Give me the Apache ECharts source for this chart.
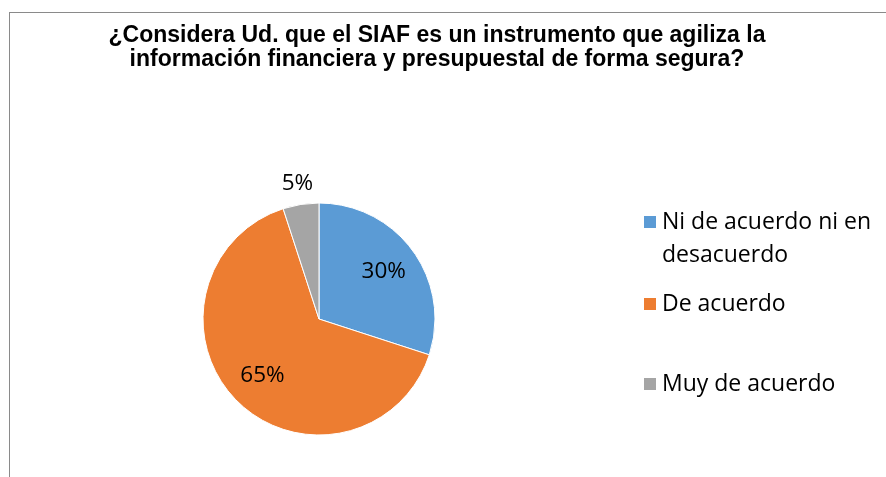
<!DOCTYPE html>
<html>
<head>
    <meta charset="utf-8">
    <title>chart</title>
    <style>
        html, body { margin: 0; padding: 0; background: #fff; }
        #main { width: 886px; height: 477px; position: relative; }
        .frame {
            position: absolute;
            left: 9px;
            top: 12px;
            right: 0;
            bottom: 0;
            border-top: 1px solid #8a8a8a;
            border-left: 1px solid #8a8a8a;
            pointer-events: none;
        }
    </style>
    <script src="https://cdn.jsdelivr.net/npm/echarts@6/dist/echarts.min.js"></script>
</head>
<body>
<div id="main"></div>
<div class="frame"></div>
<script>
    var titleLines = [
        '¿Considera Ud. que el SIAF es un instrumento que agiliza la',
        'información financiera y presupuestal de forma segura?'
    ];
    var categories = ['Ni de acuerdo ni en desacuerdo', 'De acuerdo', 'Muy de acuerdo'];
    var values = [30, 65, 5];
    var colors = ['#5b9bd5', '#ed7d31', '#a5a5a5'];

    var font = '"Open Sans", sans-serif';

    var pieData = categories.map(function (name, i) {
        return {name: name, value: values[i], itemStyle: {color: colors[i]}};
    });

    // label-only copies of the pie, so the labels sit where the original ones are
    var innerLabels = categories.map(function (name, i) {
        return {name: name, value: values[i], label: {show: i < 2}};
    });
    var outerLabels = categories.map(function (name, i) {
        return {name: name, value: values[i], label: {show: i === 2}};
    });

    var labelStyle = {
        position: 'inside',
        formatter: '{c}%',
        color: '#000',
        fontSize: 22.5,
        fontFamily: font
    };

    function legendFor(name, top) {
        return {
            data: [name],
            orient: 'vertical',
            left: 642,
            top: top,
            padding: 0,
            icon: 'rect',
            itemWidth: 14,
            itemHeight: 14,
            selectedMode: false,
            formatter: function (n) {
                // first entry wraps onto two lines, marker stays on the first one
                if (n === categories[0]) return ' \nNi de acuerdo ni en\ndesacuerdo';
                return n;
            },
            textStyle: {
                fontSize: 23,
                fontFamily: font,
                color: '#000',
                lineHeight: 33
            }
        };
    }

    var chart = echarts.init(document.getElementById('main'));
    chart.setOption({
        animation: false,
        title: {
            text: titleLines.join('\n'),
            left: 432,
            top: 19,
            textAlign: 'center',
            textStyle: {
                fontFamily: '"Liberation Sans", Arial, sans-serif',
                fontWeight: 'bold',
                fontSize: 23,
                lineHeight: 24,
                color: '#000'
            }
        },
        legend: [
            legendFor(categories[0], 172.5),
            legendFor(categories[1], 287.5),
            legendFor(categories[2], 367.5)
        ],
        series: [{
            name: 'main',
            type: 'pie',
            center: [319, 319],
            radius: [0, 116],
            startAngle: 90,
            clockwise: true,
            label: {show: false},
            labelLine: {show: false},
            itemStyle: {borderColor: '#fff', borderWidth: 1},
            emphasis: {disabled: true},
            data: pieData
        }, {
            name: 'inner labels',
            type: 'pie',
            center: [319, 319],
            radius: [38, 116],
            startAngle: 90,
            silent: true,
            itemStyle: {color: 'rgba(0,0,0,0)'},
            label: labelStyle,
            labelLine: {show: false},
            emphasis: {disabled: true},
            data: innerLabels
        }, {
            name: 'outer labels',
            type: 'pie',
            center: [319, 319],
            radius: [116, 153],
            startAngle: 90,
            silent: true,
            itemStyle: {color: 'rgba(0,0,0,0)'},
            label: labelStyle,
            labelLine: {show: false},
            emphasis: {disabled: true},
            data: outerLabels
        }]
    });
</script>
</body>
</html>
